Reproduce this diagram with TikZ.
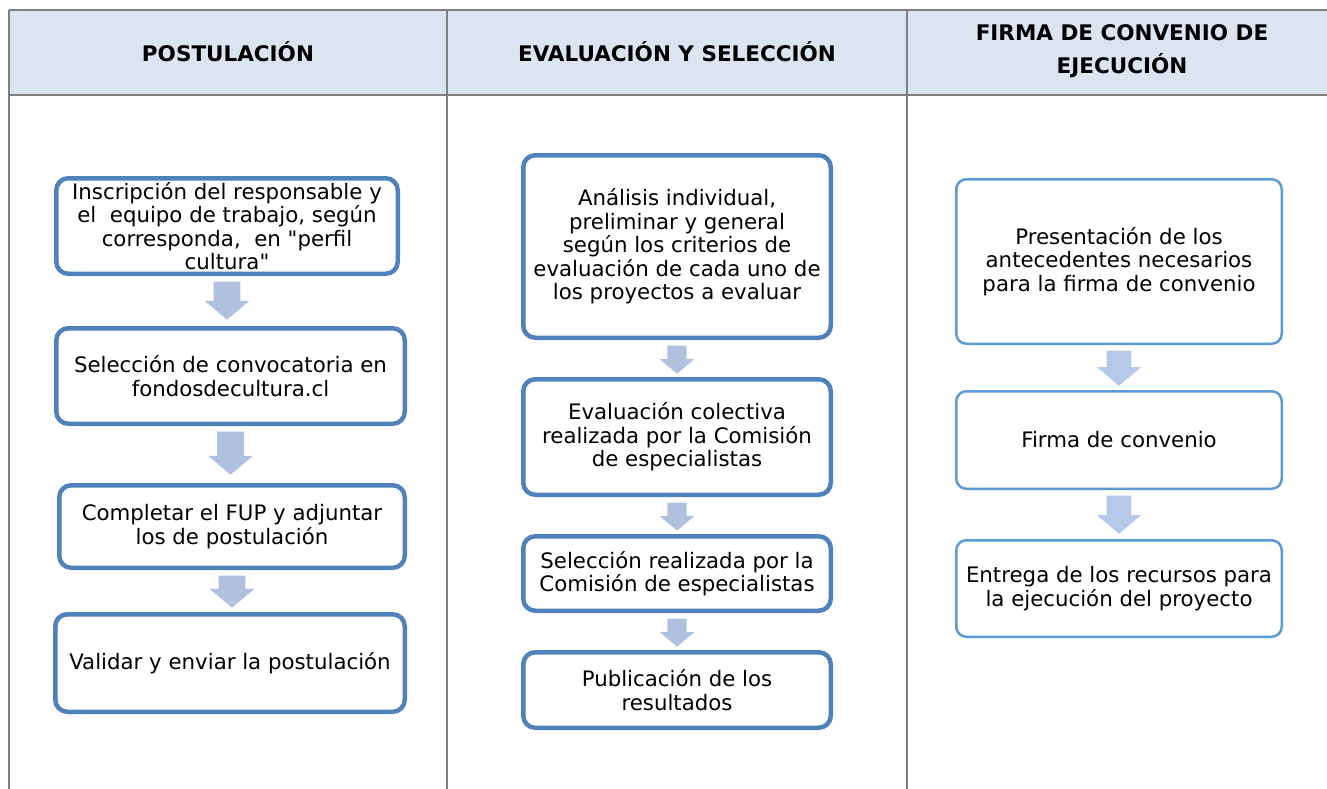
\documentclass[tikz,border=0pt]{standalone}
\usepackage{fontspec}
\setmainfont{DejaVu Sans}[Ligatures=TeXOff]
\usetikzlibrary{shapes.arrows,calc}

\definecolor{headfill}{HTML}{DBE5F1}
\definecolor{gridline}{HTML}{808080}
\definecolor{boxline}{HTML}{4F81BD}
\definecolor{boxlinelight}{HTML}{5B9BD5}
\definecolor{arrowfill}{HTML}{AFC1DE}
\definecolor{arrowfilllight}{HTML}{B4C8E8}

\tikzstyle{head} = [align=center, font=\bfseries\fontsize{21.5}{33}\selectfont]
\tikzstyle{b} = [align=center, rectangle, draw=boxline, fill=white, line width=4.5pt, rounded corners=12pt, inner sep=0pt, font=\fontsize{21.3}{23.5}\selectfont]
\tikzstyle{bl} = [b, draw=boxlinelight, line width=2.5pt, rounded corners=10pt]
\tikzstyle{down} = [single arrow, draw=none, fill=arrowfill, shape border rotate=270, anchor=tail, inner xsep=10pt, inner ysep=0pt, single arrow tip angle=100]

\begin{document}
\begin{tikzpicture}[x=1pt, y=-1pt]
\useasboundingbox (0,0) rectangle (1327,789);

% table
\fill [headfill] (9,10) rectangle (1327,95);
\draw [gridline, line width=1.5pt] (9,10) -- (1327,10);
\draw [gridline, line width=1.5pt] (9,95) -- (1327,95);
\foreach \x in {9,447,907}
  \draw [gridline, line width=1.5pt] (\x,10) -- (\x,789);

\node [head] (h1) at (228,52) {POSTULACIÓN};
\node [head] (h2) at (677,52) {EVALUACIÓN Y SELECCIÓN};
\node [head] (h3) at (1122,51) {FIRMA DE CONVENIO DE\\EJECUCIÓN};

% postulacion
\node [b, minimum width=341.5pt, minimum height=95.5pt] (a1) at (227,226) {Inscripción del responsable y\\el\ \ equipo de trabajo, según\\corresponda,\ \ en "perfil\\cultura"};
\node [b, minimum width=348.5pt, minimum height=95.5pt] (a2) at (230.5,376) {Selección de convocatoria en\\fondosdecultura.cl};
\node [b, minimum width=345.5pt, minimum height=82.5pt] (a3) at (232,526.5) {Completar el FUP y adjuntar\\los de postulación};
\node [b, minimum width=349.5pt, minimum height=97.5pt] (a4) at (230,663) {Validar y enviar la postulación};

% evaluacion
\node [b, minimum width=307.5pt, minimum height=182.5pt] (b1) at (677,246.5) {Análisis individual,\\preliminar y general\\según los criterios de\\evaluación de cada uno de\\los proyectos a evaluar};
\node [b, minimum width=307.5pt, minimum height=115.5pt] (b2) at (677,437) {Evaluación colectiva\\realizada por la Comisión\\de especialistas};
\node [b, minimum width=307.5pt, minimum height=74.5pt] (b3) at (677,573.5) {Selección realizada por la\\Comisión de especialistas};
\node [b, minimum width=307.5pt, minimum height=75.5pt] (b4) at (677,690) {Publicación de los\\resultados};

% firma
\node [bl, minimum width=325.5pt, minimum height=164.5pt] (c1) at (1119,261.5) {Presentación de los\\antecedentes necesarios\\para la firma de convenio};
\node [bl, minimum width=325.5pt, minimum height=97.5pt] (c2) at (1119,440) {Firma de convenio};
\node [bl, minimum width=325.5pt, minimum height=96.5pt] (c3) at (1119,588.5) {Entrega de los recursos para\\la ejecución del proyecto};

% arrows
\node [down, minimum height=38pt, minimum width=45pt] at ($(a1.south)+(0,5.5)$) {};
\node [down, minimum height=43pt, minimum width=45pt] at ($(a2.south)+(0,5.5)$) {};
\node [down, minimum height=32pt, minimum width=45pt] at ($(a3.south)+(0,5.5)$) {};
\node [down, inner xsep=8.5pt, minimum height=28pt, minimum width=35pt] at ($(b1.south)+(0,5.5)$) {};
\node [down, inner xsep=8.5pt, minimum height=28pt, minimum width=35pt] at ($(b2.south)+(0,5.5)$) {};
\node [down, inner xsep=8.5pt, minimum height=28pt, minimum width=35pt] at ($(b3.south)+(0,5.5)$) {};
\node [down, inner xsep=9pt, fill=arrowfilllight, minimum height=35pt, minimum width=44pt] at ($(c1.south)+(0,5.5)$) {};
\node [down, inner xsep=9pt, fill=arrowfilllight, minimum height=38pt, minimum width=44pt] at ($(c2.south)+(0,5.5)$) {};
\end{tikzpicture}
\end{document}
